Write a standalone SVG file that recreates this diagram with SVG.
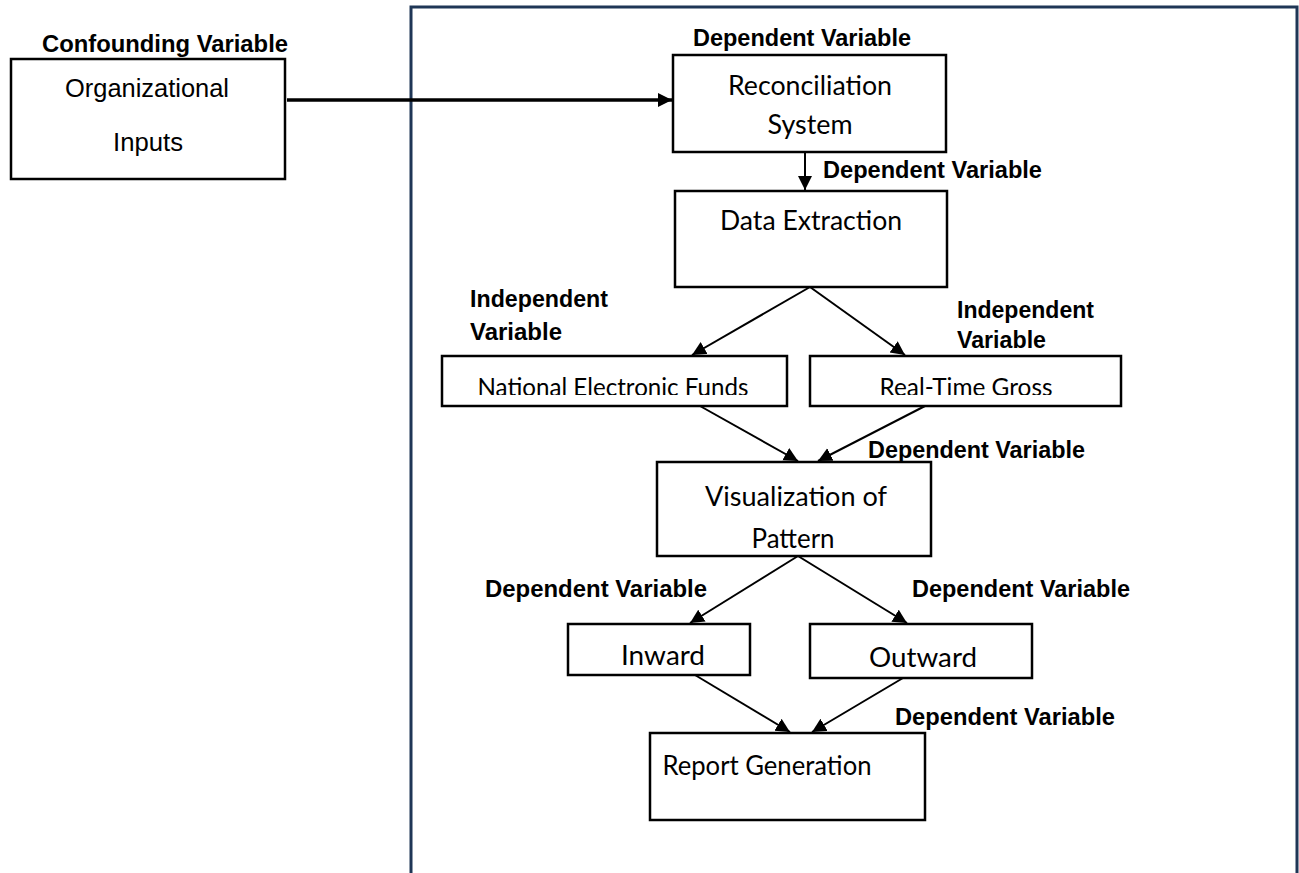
<svg xmlns="http://www.w3.org/2000/svg" width="1299" height="873" viewBox="0 0 1299 873">
<style>
.box{fill:#fff;stroke:#000;stroke-width:2.5}
.lbl{font-family:"Liberation Sans",Arial,sans-serif;font-weight:bold;font-size:23px;fill:#000}
.ar{font-family:"Liberation Sans",Arial,sans-serif;font-size:25px;fill:#000}
.cb{font-family:Lato,"Open Sans",sans-serif;font-size:26px;fill:#000}
.cb2{font-family:Lato,"Open Sans",sans-serif;font-size:25px;fill:#000}
.conn{stroke:#000;stroke-width:2;fill:none}
.thick{stroke-width:3.5}
</style>
<defs>
<marker id="ah" markerUnits="userSpaceOnUse" markerWidth="16" markerHeight="16" refX="14" refY="7" orient="auto">
<path d="M0,0 L14,7 L0,14 Z" fill="#000"/>
</marker>
<clipPath id="clipNEF"><rect x="442" y="356" width="345" height="39"/></clipPath>
<clipPath id="clipRTG"><rect x="810" y="356" width="311" height="39"/></clipPath>
</defs>
<rect width="1299" height="873" fill="#fff"/>
<g id="container">
<path d="M411,880 L411,7 L1297,7 L1297,880" fill="none" stroke="#1f3656" stroke-width="3"/>
</g>
<g id="org">
<text class="lbl" x="42" y="52" textLength="246" lengthAdjust="spacingAndGlyphs">Confounding  Variable</text>
<rect class="box" x="11" y="59" width="274" height="120"/>
<text class="ar" x="147" y="97" text-anchor="middle" textLength="164" lengthAdjust="spacingAndGlyphs">Organizational</text>
<text class="ar" x="148" y="151" text-anchor="middle" textLength="70" lengthAdjust="spacingAndGlyphs">Inputs</text>
</g>
<g id="recon">
<text class="lbl" x="693" y="46" textLength="218" lengthAdjust="spacingAndGlyphs">Dependent Variable</text>
<rect class="box" x="673" y="55" width="273" height="97"/>
<text class="cb" x="810" y="95" text-anchor="middle" textLength="164" lengthAdjust="spacingAndGlyphs">Reconciliation</text>
<text class="cb" x="810" y="134" text-anchor="middle" textLength="85" lengthAdjust="spacingAndGlyphs">System</text>
</g>
<g id="extract">
<text class="lbl" x="823" y="178" textLength="219" lengthAdjust="spacingAndGlyphs">Dependent Variable</text>
<rect class="box" x="675" y="191" width="272" height="96"/>
<text class="cb" x="811" y="230" text-anchor="middle" textLength="182" lengthAdjust="spacingAndGlyphs">Data Extraction</text>
</g>
<g id="nef">
<text class="lbl" x="470" y="307" textLength="138" lengthAdjust="spacingAndGlyphs">Independent</text>
<text class="lbl" x="470" y="340" textLength="92" lengthAdjust="spacingAndGlyphs">Variable</text>
<rect class="box" x="442" y="356" width="345" height="50"/>
<text class="cb2" x="613" y="396" text-anchor="middle" textLength="271" lengthAdjust="spacingAndGlyphs" clip-path="url(#clipNEF)">National  Electronic  Funds</text>
</g>
<g id="rtg">
<text class="lbl" x="957" y="318" textLength="137" lengthAdjust="spacingAndGlyphs">Independent</text>
<text class="lbl" x="957" y="348" textLength="89" lengthAdjust="spacingAndGlyphs">Variable</text>
<rect class="box" x="810" y="356" width="311" height="50"/>
<text class="cb2" x="966" y="396" text-anchor="middle" textLength="173" lengthAdjust="spacingAndGlyphs" clip-path="url(#clipRTG)">Real-Time  Gross</text>
</g>
<g id="vis">
<text class="lbl" x="868" y="458" textLength="217" lengthAdjust="spacingAndGlyphs">Dependent Variable</text>
<rect class="box" x="657" y="462" width="274" height="94"/>
<text class="cb" x="796" y="506" text-anchor="middle" textLength="182" lengthAdjust="spacingAndGlyphs">Visualization of</text>
<text class="cb" x="793" y="548" text-anchor="middle" textLength="83" lengthAdjust="spacingAndGlyphs">Pattern</text>
</g>
<g id="inward">
<text class="lbl" x="485" y="597" textLength="222" lengthAdjust="spacingAndGlyphs">Dependent Variable</text>
<rect class="box" x="568" y="624" width="182" height="51"/>
<text class="cb" x="663" y="665" text-anchor="middle" textLength="84" lengthAdjust="spacingAndGlyphs">Inward</text>
</g>
<g id="outward">
<text class="lbl" x="912" y="597" textLength="218" lengthAdjust="spacingAndGlyphs">Dependent Variable</text>
<rect class="box" x="810" y="624" width="222" height="54"/>
<text class="cb" x="923" y="667" text-anchor="middle" textLength="108" lengthAdjust="spacingAndGlyphs">Outward</text>
</g>
<g id="report">
<text class="lbl" x="895" y="725" textLength="220" lengthAdjust="spacingAndGlyphs">Dependent Variable</text>
<rect class="box" x="650" y="733" width="275" height="87"/>
<text class="cb" x="767" y="775" text-anchor="middle" textLength="209" lengthAdjust="spacingAndGlyphs">Report Generation</text>
</g>
<g id="connectors">
<line class="conn thick" x1="287" y1="100" x2="672" y2="100" marker-end="url(#ah)"/>
<line class="conn" x1="805" y1="152" x2="805" y2="190" marker-end="url(#ah)"/>
<line class="conn" x1="810" y1="287" x2="692" y2="355" marker-end="url(#ah)"/>
<line class="conn" x1="810" y1="287" x2="905" y2="355" marker-end="url(#ah)"/>
<line class="conn" x1="700" y1="406" x2="798" y2="461" marker-end="url(#ah)"/>
<line class="conn" x1="925" y1="406" x2="818" y2="461" marker-end="url(#ah)"/>
<line class="conn" x1="798" y1="556" x2="690" y2="623" marker-end="url(#ah)"/>
<line class="conn" x1="798" y1="556" x2="907" y2="623" marker-end="url(#ah)"/>
<line class="conn" x1="695" y1="675" x2="790" y2="732" marker-end="url(#ah)"/>
<line class="conn" x1="903" y1="678" x2="812" y2="732" marker-end="url(#ah)"/>
</g>
</svg>
